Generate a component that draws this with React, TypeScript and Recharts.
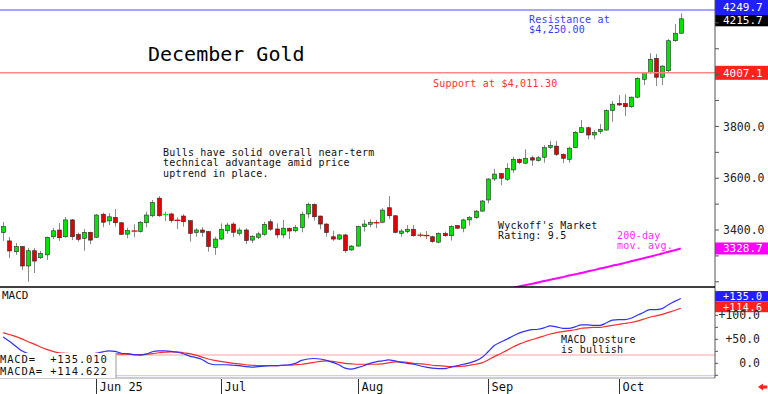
import React from "react";
import { Bar, ComposedChart, Line, ReferenceLine, XAxis, YAxis } from "recharts";

// daily candles, mid-May .. mid-Oct
const opens = [
  3390, 3358, 3316, 3336, 3261, 3320, 3293, 3304, 3374, 3400,
  3374, 3439, 3383, 3368, 3391, 3372, 3461, 3435, 3449, 3428,
  3384, 3397, 3394, 3428, 3455, 3523, 3458, 3462, 3439, 3454,
  3436, 3390, 3400, 3394, 3333, 3365, 3397, 3423, 3387, 3400,
  3361, 3372, 3383, 3432, 3404, 3381, 3407, 3397, 3409, 3462,
  3499, 3454, 3423, 3374, 3365, 3381, 3323, 3338, 3413, 3422,
  3430, 3430, 3486, 3455, 3387, 3394, 3403, 3381, 3381, 3374,
  3353, 3387, 3378, 3417, 3407, 3439, 3448, 3473, 3516, 3597,
  3618, 3596, 3632, 3673, 3658, 3679, 3668, 3681, 3719, 3724,
  3692, 3673, 3718, 3777, 3795, 3767, 3780, 3786, 3861, 3889,
  3889, 3876, 3913, 3982, 4008, 4063, 3990, 4015, 4131, 4160,
];
const highs = [
  3431, 3373, 3350, 3338, 3331, 3331, 3319, 3374, 3408, 3427,
  3450, 3443, 3390, 3404, 3394, 3461, 3467, 3465, 3481, 3431,
  3409, 3422, 3435, 3471, 3516, 3531, 3471, 3467, 3448, 3461,
  3439, 3407, 3411, 3396, 3374, 3426, 3428, 3430, 3409, 3407,
  3381, 3394, 3432, 3441, 3426, 3439, 3409, 3419, 3471, 3506,
  3503, 3455, 3426, 3397, 3385, 3385, 3342, 3417, 3439, 3441,
  3439, 3484, 3531, 3458, 3404, 3419, 3419, 3390, 3396, 3378,
  3391, 3394, 3419, 3419, 3443, 3454, 3477, 3516, 3600, 3636,
  3619, 3658, 3683, 3677, 3712, 3687, 3686, 3728, 3744, 3744,
  3696, 3722, 3782, 3825, 3799, 3786, 3809, 3866, 3898, 3921,
  3924, 3915, 3990, 4011, 4083, 4080, 4037, 4137, 4196, 4237,
];
const lows = [
  3358, 3292, 3304, 3246, 3200, 3234, 3288, 3284, 3365, 3358,
  3370, 3361, 3355, 3320, 3345, 3370, 3411, 3419, 3413, 3381,
  3368, 3372, 3390, 3411, 3449, 3451, 3435, 3428, 3404, 3413,
  3355, 3374, 3374, 3316, 3304, 3361, 3385, 3372, 3378, 3346,
  3350, 3365, 3378, 3397, 3368, 3368, 3365, 3391, 3391, 3445,
  3436, 3403, 3374, 3358, 3361, 3312, 3320, 3336, 3394, 3411,
  3407, 3426, 3443, 3387, 3374, 3387, 3374, 3372, 3365, 3351,
  3349, 3374, 3359, 3403, 3391, 3417, 3443, 3471, 3503, 3589,
  3573, 3590, 3621, 3654, 3654, 3648, 3664, 3660, 3713, 3686,
  3658, 3660, 3716, 3774, 3750, 3750, 3771, 3784, 3818, 3879,
  3840, 3872, 3909, 3960, 4003, 3956, 3960, 4008, 4127, 4157,
];
const closes = [
  3413, 3319, 3336, 3261, 3320, 3280, 3310, 3372, 3397, 3370,
  3439, 3374, 3364, 3391, 3361, 3458, 3430, 3451, 3428, 3383,
  3398, 3395, 3430, 3458, 3506, 3455, 3462, 3436, 3436, 3432,
  3387, 3400, 3391, 3336, 3365, 3403, 3419, 3391, 3400, 3359,
  3375, 3385, 3422, 3403, 3381, 3407, 3396, 3409, 3461, 3499,
  3451, 3423, 3390, 3365, 3381, 3320, 3338, 3413, 3423, 3430,
  3426, 3477, 3455, 3391, 3396, 3403, 3378, 3379, 3376, 3355,
  3387, 3378, 3413, 3407, 3439, 3448, 3473, 3512, 3597, 3616,
  3600, 3638, 3673, 3660, 3677, 3670, 3679, 3718, 3726, 3692,
  3677, 3716, 3777, 3795, 3767, 3777, 3789, 3861, 3886, 3883,
  3876, 3913, 3986, 4008, 4059, 3990, 4033, 4131, 4160, 4215.7,
];

// 200-day moving average, only the part that shows above the panel floor
const maStart = 80;
const ma200 = [
  3166, 3171, 3176, 3182, 3187, 3192, 3197, 3203, 3208, 3213,
  3218, 3224, 3229, 3234, 3240, 3245, 3251, 3256, 3262, 3267,
  3273, 3279, 3285, 3291, 3297, 3303, 3309, 3316, 3322, 3328.7,
];

const macd = [
  55, 46, 36, 26, 20, 15, 12, 12, 13, 14,
  16, 17, 17, 18, 19, 21, 24, 26, 25, 21,
  20, 18, 17, 19, 24, 26, 26, 25, 23, 20,
  15, 12, 8, 0, -3, -3, -3, -4, -5, -7,
  -8, -7, -6, -5, -5, -4, -3, 0, 6, 9,
  10, 9, 6, 2, -3, -10, -12, -9, -5, 0,
  3, 5, 7, 5, 2, 0, -2, -5, -8, -10,
  -11, -11, -8, -5, -2, 1, 5, 12, 24, 37,
  44, 50, 57, 63, 67, 70, 71, 74, 78, 76,
  73, 73, 76, 80, 80, 79, 79, 84, 90, 91,
  91, 94, 100, 106, 112, 112, 114, 122, 129, 135.01,
];
const macda = [
  64, 60, 56, 51, 45, 40, 34, 29, 25, 22,
  21, 20, 20, 20, 20, 21, 21, 20, 20, 19,
  19, 18, 18, 19, 20, 22, 23, 24, 24, 22,
  20, 17, 13, 9, 6, 4, 2, 0, -1, -3,
  -4, -5, -5, -5, -5, -4, -4, -3, -2, 0,
  2, 4, 5, 4, 2, 0, -1, -2, -2, -2,
  -2, -1, 1, 3, 3, 2, 0, -1, -2, -4,
  -5, -6, -7, -7, -6, -4, -2, 1, 7, 14,
  20, 27, 34, 40, 45, 49, 53, 57, 61, 64,
  66, 68, 70, 73, 74, 75, 75, 77, 79, 81,
  83, 85, 88, 92, 96, 99, 102, 106, 110, 114.622,
];

const monthTicks = [15, 35, 57, 78, 99];
const monthLabels = ["Jun 25", "Jul", "Aug", "Sep", "Oct"];
const priceTicks = [3200, 3300, 3400, 3500, 3600, 3700, 3800, 3900, 4000, 4100, 4200];
const priceLabels = [3400, 3600, 3800];
const macdTicks = [-25, 0, 25, 50, 75, 100, 125, 150];
const macdLabels = [0, 50, 100];

const resistance = 4249.7;
const support = 4007.1;
const slots = 115; // trading days + empty room on the right

const rows = Array.from({ length: slots }, (_, i) =>
  i < opens.length
    ? {
        i,
        o: opens[i],
        h: highs[i],
        l: lows[i],
        c: closes[i],
        ma: i >= maStart ? ma200[i - maStart] : null,
        macd: macd[i],
        macda: macda[i],
      }
    : { i }
);

const mono = "DejaVu Sans Mono";
const last = rows[opens.length - 1] as any;

function Candle(props: any) {
  const { x, y, width, height, payload } = props;
  if (!payload || payload.h == null) return null;
  const top = Math.min(y, y + height);
  const span = Math.abs(height);
  const k = span / (payload.h - payload.l);
  const py = (v: number) => top + (payload.h - v) * k;
  const cx = Math.round(x + width / 2) + 0.5;
  const up = payload.c >= payload.o;
  const bTop = py(Math.max(payload.o, payload.c));
  const bBot = py(Math.min(payload.o, payload.c));
  const fill = up ? "#00e400" : "#e00000";
  const mid = (bTop + bBot) / 2;
  return (
    <g>
      <line x1={cx} x2={cx} y1={top} y2={top + span} stroke="#8a8a8a" strokeWidth={1} />
      {bBot - bTop < 1.5 ? (
        <line x1={cx - 3} x2={cx + 3} y1={mid} y2={mid} stroke={fill} strokeWidth={1.3} />
      ) : (
        <rect x={cx - 2} y={bTop} width={4} height={bBot - bTop} fill={fill} stroke="#2a2a2a" strokeWidth={0.6} />
      )}
    </g>
  );
}

function boxLabel(text: string, fill: string, h: number, dy = 0, fs = 11) {
  return (p: any) => {
    const { x, y, width } = p.viewBox;
    const left = x + width;
    return (
      <g>
        <rect x={left} y={y + dy - h / 2} width={53} height={h} fill={fill} />
        <text x={left + 8} y={y + dy + 0.5} dominantBaseline="central" fill="#fff" fontSize={fs} fontFamily={mono} letterSpacing={fs < 11 ? 0.6 : 0}>
          {text}
        </text>
      </g>
    );
  };
}

function MacdTick({ x, y, payload }: any) {
  const v = payload.value;
  if (!macdLabels.includes(v)) return null;
  const t = v > 0 ? `+${v.toFixed(1)}` : v.toFixed(1);
  return (
    <text x={x + 38} y={y} textAnchor="end" dominantBaseline="central" fontSize={11.5} fontFamily={mono} fill="#222">
      {t}
    </text>
  );
}

function MonthTick({ x, y, payload }: any) {
  const k = monthTicks.indexOf(payload.value);
  if (k < 0) return null;
  const px = Math.round(x) + 0.5;
  return (
    <g>
      <line x1={px} x2={px} y1={y + 1} y2={y + 16} stroke="#333" />
      <text x={px + 3} y={y + 12.5} fontSize={12} fontFamily={mono} fill="#111">
        {monthLabels[k]}
      </text>
    </g>
  );
}

export default function App() {
  const note = { fontSize: 10, letterSpacing: 0.2 };
  return (
    <div style={{ position: "absolute", left: 0, top: 0, width: 768, height: 394, background: "#fff", overflow: "hidden" }}>
      <div style={{ position: "absolute", left: 0, top: 0 }}>
        <ComposedChart width={768} height={287} data={rows} margin={{ top: 0, right: 0, bottom: 0, left: 0 }}>
          <XAxis dataKey="i" type="category" scale="band" hide />
          <YAxis
            orientation="right"
            width={53}
            domain={[3179.9, 4288.3]}
            allowDataOverflow
            ticks={priceTicks}
            interval={0}
            axisLine={{ stroke: "#555" }}
            tickLine={{ stroke: "#555" }}
            tickSize={4}
            tickMargin={4}
            tickFormatter={(v: number) => (priceLabels.includes(v) ? v.toFixed(1) : "")}
            tick={{ fontSize: 11.5, fontFamily: mono, fill: "#222" }}
          />
          <ReferenceLine y={resistance} stroke="#8888ff" strokeWidth={1.5} />
          <ReferenceLine y={support} stroke="#ff8888" strokeWidth={1.5} />
          <Bar dataKey={(d: any) => (d.h == null ? null : [d.l, d.h])} shape={Candle} isAnimationActive={false} />
          <Line dataKey="ma" stroke="#ff00ff" strokeWidth={2} dot={false} type="monotone" isAnimationActive={false} />
          <ReferenceLine y={last.ma} stroke="none" label={boxLabel(last.ma.toFixed(1), "#ff00ff", 12)} />
          <ReferenceLine y={last.c} stroke="none" label={boxLabel(last.c.toFixed(1), "#000", 12, 1.5)} />
          <ReferenceLine y={resistance} stroke="none" label={boxLabel(resistance.toFixed(1), "#1f1fff", 15, -2.5)} />
          <ReferenceLine y={support} stroke="none" label={boxLabel(support.toFixed(1), "#ff2020", 14)} />
        </ComposedChart>
      </div>

      <div style={{ position: "absolute", left: 0, top: 287 }}>
        <ComposedChart width={768} height={107} data={rows} margin={{ top: 0, right: 0, bottom: 0, left: 0 }}>
          <XAxis
            dataKey="i"
            type="category"
            scale="band"
            height={16}
            ticks={monthTicks}
            interval={0}
            tickLine={false}
            tickSize={0}
            tickMargin={0}
            axisLine={{ stroke: "#999" }}
            tick={<MonthTick />}
          />
          <YAxis
            orientation="right"
            width={53}
            domain={[-30.6, 159]}
            allowDataOverflow
            ticks={macdTicks}
            interval={0}
            axisLine={{ stroke: "#555" }}
            tickLine={{ stroke: "#555" }}
            tickSize={3}
            tickMargin={4}
            tick={<MacdTick />}
          />
          <ReferenceLine y={17.3} stroke="#ffd0d0" strokeWidth={2} />
          <ReferenceLine y={-25.8} stroke="#c0c0ff" strokeWidth={1} />
          <Line dataKey="macda" stroke="#ff2a2a" strokeWidth={1.2} dot={false} type="monotone" isAnimationActive={false} />
          <Line dataKey="macd" stroke="#3030ff" strokeWidth={1.2} dot={false} type="monotone" isAnimationActive={false} />
          <ReferenceLine y={macda[macda.length - 1]} stroke="none" label={boxLabel("+" + macda[macda.length - 1].toFixed(1), "#ff2020", 11, -1.6, 10)} />
          <ReferenceLine y={macd[macd.length - 1]} stroke="none" label={boxLabel("+" + macd[macd.length - 1].toFixed(1), "#1f1fff", 10, -2.5, 10)} />
        </ComposedChart>
      </div>

      <svg width={768} height={394} style={{ position: "absolute", left: 0, top: 0, pointerEvents: "none" }} fontFamily={mono}>
        <line x1={0} x2={715} y1={287} y2={287} stroke="#000" strokeWidth={1.6} />
        <text x={148} y={61} fontSize={20} fill="#000">December Gold</text>
        <text x={529} y={23.3} {...note} fill="#3a3aff">Resistance at</text>
        <text x={529} y={33.3} {...note} fill="#3a3aff">$4,250.00</text>
        <text x={433} y={87.3} {...note} fill="#ff3030">Support at $4,011.30</text>
        <text x={163} y={156} {...note} fill="#111">Bulls have solid overall near-term</text>
        <text x={163} y={166.3} {...note} fill="#111">technical advantage amid price</text>
        <text x={163} y={176.6} {...note} fill="#111">uptrend in place.</text>
        <text x={498} y={228.7} {...note} fill="#111">Wyckoff's Market</text>
        <text x={498} y={239} {...note} fill="#111">Rating: 9.5</text>
        <text x={617} y={239} {...note} fill="#ff2cff">200-day</text>
        <text x={617} y={249.3} {...note} fill="#ff2cff">mov. avg.</text>
        <text x={561} y={343.3} {...note} fill="#111">MACD posture</text>
        <text x={561} y={353.3} {...note} fill="#111">is bullish</text>
        <text x={2} y={299.3} fontSize={11} fill="#111">MACD</text>
        <rect x={0} y={353} width={116} height={25} fill="#fff" />
        <line x1={116} x2={116} y1={353} y2={378} stroke="#999" />
        <text x={0} y={363.3} fontSize={10.5} letterSpacing={0.85} fill="#111" xmlSpace="preserve">{"MACD=  +135.010"}</text>
        <text x={0} y={375.3} fontSize={10.5} letterSpacing={0.85} fill="#111" xmlSpace="preserve">{"MACDA= +114.622"}</text>
        <path d="M758 387 L763 383.5 L763 385.5 L767 385.5 L767 388.5 L763 388.5 L763 390.5 Z" fill="#ff2020" />
      </svg>
    </div>
  );
}
